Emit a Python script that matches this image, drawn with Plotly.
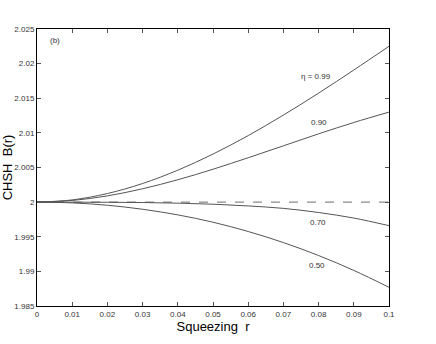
import plotly.graph_objects as go

# squeezing parameter r
r = [0.0, 0.01, 0.02, 0.03, 0.04, 0.05, 0.06, 0.07, 0.08, 0.09, 0.1]

# CHSH value B(r) for each detector efficiency eta
b_099 = [2.0, 2.00032, 2.00124, 2.00269, 2.00461, 2.00694, 2.00961, 2.01257, 2.01574, 2.01908, 2.0225]
b_090 = [2.0, 2.00024, 2.0009, 2.00193, 2.00323, 2.00475, 2.00641, 2.00813, 2.00986, 2.0115, 2.013]
b_070 = [2.0, 1.99999, 1.99998, 1.99994, 1.99985, 1.9997, 1.99945, 1.9991, 1.9985, 1.9977, 1.9966]
b_050 = [2.0, 1.99989, 1.99955, 1.99897, 1.99816, 1.9971, 1.99576, 1.99416, 1.99229, 1.99014, 1.9877]

curvas = [
    (b_099, "η = 0.99", 0.0793, 2.01815),
    (b_090, "0.90", 0.0801, 2.01155),
    (b_070, "0.70", 0.0799, 1.99711),
    (b_050, "0.50", 0.0796, 1.99090),
]

x_ticks = [0, 0.01, 0.02, 0.03, 0.04, 0.05, 0.06, 0.07, 0.08, 0.09, 0.1]
x_labels = ["0", "0.01", "0.02", "0.03", "0.04", "0.05", "0.06", "0.07", "0.08", "0.09", "0.1"]
y_ticks = [1.985, 1.99, 1.995, 2.0, 2.005, 2.01, 2.015, 2.02, 2.025]
y_labels = ["1.985", "1.99", "1.995", "2", "2.005", "2.01", "2.015", "2.02", "2.025"]

fig = go.Figure()

# classical bound B = 2
fig.add_trace(go.Scatter(
    x=[r[0], r[-1]], y=[2.0, 2.0], mode="lines",
    line=dict(color="#8a8a8a", width=1.2, dash="dash"),
    showlegend=False
))

for valores, texto, tx, ty in curvas:
    fig.add_trace(go.Scatter(
        x=r, y=valores, mode="lines",
        line=dict(color="#555555", width=1, shape="spline"),
        showlegend=False
    ))
    fig.add_annotation(
        x=tx, y=ty, text=texto, showarrow=False,
        font=dict(size=8, color="#333333")
    )

fig.add_annotation(
    x=0.0051, y=2.0234, text="(b)", showarrow=False,
    font=dict(size=8, color="#333333")
)

eje = dict(
    showline=True, linecolor="black", linewidth=1, mirror="ticks",
    ticks="inside", ticklen=4, tickcolor="#555555", tickwidth=1,
    showgrid=False, zeroline=False,
    tickfont=dict(size=8, color="#333333"),
    automargin=False,
)

fig.update_layout(
    width=436, height=344,
    margin=dict(l=37, r=47, t=29, b=38),
    paper_bgcolor="white", plot_bgcolor="white",
    font=dict(family="Liberation Sans, Arial, sans-serif"),
    xaxis=dict(
        eje, range=[0, 0.1], tickvals=x_ticks, ticktext=x_labels,
        title=dict(text="Squeezing  r", font=dict(size=13, color="black"), standoff=0),
    ),
    yaxis=dict(
        eje, range=[1.985, 2.025], tickvals=y_ticks, ticktext=y_labels,
        title=dict(text="CHSH  B(r)", font=dict(size=13, color="black"), standoff=4),
    ),
)

# drop the default 8px body margin so the figure sits at the page corner
fig.write_html(
    "out.html",
    config={"displayModeBar": False},
    post_script="document.body.style.margin='0';",
)
